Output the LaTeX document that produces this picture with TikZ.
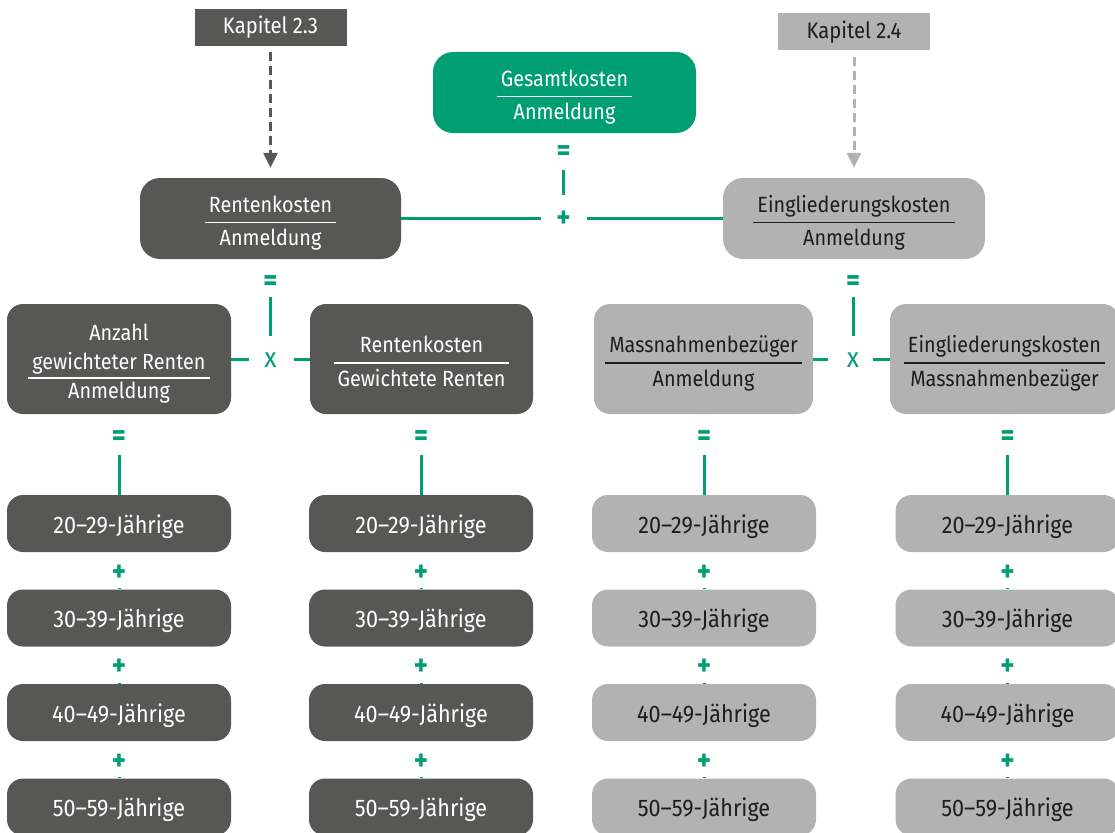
\documentclass[tikz,border=0pt]{standalone}
\usepackage{fontspec}
\setmainfont{Fira Sans}[FakeStretch=0.9]
\usetikzlibrary{arrows.meta}
\definecolor{dg}{HTML}{575756}
\definecolor{lg}{HTML}{B2B2B2}
\definecolor{gr}{HTML}{009E73}
\definecolor{tx}{HTML}{1D1D1B}
\setlength\arrayrulewidth{1.2pt}
\renewcommand\arraystretch{1.25}
\newcommand\frc[2]{\raisebox{-4pt}[\height][\depth]{\begin{tabular}{@{\hspace{4pt}}c@{\hspace{4pt}}}#1\\\hline #2\end{tabular}}}
\newcommand\frcthree[3]{\raisebox{-5pt}[\height][\depth]{\renewcommand\arraystretch{1.08}\begin{tabular}{@{\hspace{4pt}}c@{\hspace{4pt}}}#1\\#2\\\hline #3\end{tabular}}}
\newcommand\age[1]{\raisebox{-3pt}[\height][\depth]{#1}}
\begin{document}
\begin{tikzpicture}[x=1pt,y=-1pt,
  box/.style={rounded corners=16pt, inner sep=0pt, align=center, font=\fontsize{22}{26}\selectfont},
  bigbox/.style={box, rounded corners=20pt, minimum width=#1, minimum height=81pt},
  midbox/.style={box, minimum width=#1, minimum height=110pt},
  agebox/.style={box, minimum width=224pt, minimum height=57pt, font=\fontsize{24}{28}\selectfont},
  dark/.style={fill=dg, text=white},
  light/.style={fill=lg, text=tx},
  green/.style={fill=gr, text=white},
  kap/.style={inner sep=0pt, minimum width=152pt, minimum height=37pt, font=\fontsize{22.5}{26}\selectfont},
  sym/.style={inner sep=0pt, text=gr, font=\fontsize{30}{34}\selectfont\bfseries},
  xsym/.style={inner sep=0pt, text=gr, font=\fontsize{28}{32}\selectfont},
  gline/.style={draw=gr, line width=3pt},
  darr/.style={line width=3pt, dash pattern=on 9pt off 5pt, -{Triangle[width=14pt,length=15pt]}}
]
\useasboundingbox (0,0) rectangle (1115,832);
\clip (0,0) rectangle (1115,832);

% top
\node[kap, fill=dg, text=white] (k23) at (270.5,27.5) {Kapitel 2.3};
\node[kap, fill=lg, text=tx] (k24) at (854,32) {Kapitel 2.4};
\node[bigbox=263pt, green] (ges) at (564.5,92.5) {\frc{Gesamtkosten}{Anmeldung}};
\node[bigbox=261pt, dark] (rk) at (270.5,218.5) {\frc{Rentenkosten}{Anmeldung}};
\node[bigbox=262pt, light] (ek) at (854,218.5) {\frc{Eingliederungskosten}{Anmeldung}};

\draw[darr, draw=dg, fill=dg, shorten <=6pt, shorten >=10pt] (k23.south) -- (rk.north);
\draw[darr, draw=lg, fill=lg, shorten <=6pt, shorten >=10pt] (k24.south) -- (ek.north);

\node[sym] (eq0) at (563.5,153) {=};
\node[sym] (pl0) at (563.5,219) {+};
\draw[gline, shorten <=17pt, shorten >=24pt] (eq0.center) -- (pl0.center);
\draw[gline, shorten >=23pt] (rk.east) -- (pl0.center |- rk.east);
\draw[gline, shorten <=23pt] (pl0.center |- ek.west) -- (ek.west);

% middle
\node[midbox=224pt, dark] (anz) at (119,359) {\frcthree{Anzahl}{gewichteter Renten}{Anmeldung}};
\node[midbox=223pt, dark] (rkgr) at (421.5,359) {\frc{Rentenkosten}{Gewichtete Renten}};
\node[midbox=219pt, light] (mnb) at (703.5,359) {\frc{Massnahmenbezüger}{Anmeldung}};
\node[midbox=229pt, light] (ekmb) at (1004.5,359) {\frc{Eingliederungskosten}{Massnahmenbezüger}};

\node[sym] (eqL) at (270.5,283) {=};
\node[xsym] (xL) at (270.5,360) {x};
\draw[gline, shorten <=14pt, shorten >=24pt] (eqL.center) -- (xL.center);
\draw[gline, shorten >=22pt] (anz.east) -- (xL.center |- anz.east);
\draw[gline, shorten <=23pt] (xL.center |- rkgr.west) -- (rkgr.west);

\node[sym] (eqR) at (853,283) {=};
\node[xsym] (xR) at (853,360) {x};
\draw[gline, shorten <=14pt, shorten >=24pt] (eqR.center) -- (xR.center);
\draw[gline, shorten >=25pt] (mnb.east) -- (xR.center |- mnb.east);
\draw[gline, shorten <=20pt] (xR.center |- ekmb.west) -- (ekmb.west);

% columns
\foreach \c/\cx/\sty in {a/119/dark, b/421/dark, c/704/light, d/1007.5/light}{
  \node[agebox, \sty] (\c1) at (\cx,523.5) {\age{20–29-Jährige}};
  \node[agebox, \sty] (\c2) at (\cx,618) {\age{30–39-Jährige}};
  \node[agebox, \sty] (\c3) at (\cx,712.5) {\age{40–49-Jährige}};
  \node[agebox, \sty] (\c4) at (\cx,807) {\age{50–59-Jährige}};
  \node[sym] (\c e) at (\cx,438) {=};
  \draw[gline, shorten <=17pt] (\c e.center) -- (\c1.north);
  \node[sym] (\c p1) at (\cx,573) {+};
  \node[sym] (\c p2) at (\cx,667.5) {+};
  \node[sym] (\c p3) at (\cx,762) {+};
  \draw[gline, shorten <=15pt] (\c p1.center) -- (\c2.north);
  \draw[gline, shorten <=15pt] (\c p2.center) -- (\c3.north);
  \draw[gline, shorten <=15pt] (\c p3.center) -- (\c4.north);
}
\end{tikzpicture}
\end{document}
